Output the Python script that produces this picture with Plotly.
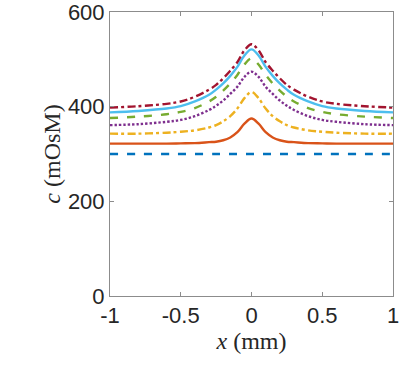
import plotly.graph_objects as go

# ── data ──────────────────────────────────────────────────────────────────────
x_mm = [-1.0, -0.8, -0.6, -0.5, -0.4, -0.3, -0.25, -0.2, -0.15, -0.1, -0.05, 0.0,
        0.05, 0.1, 0.15, 0.2, 0.25, 0.3, 0.4, 0.5, 0.6, 0.8, 1.0]

c_blue = [300] * 23
c_orange = [322, 322, 322, 322.5, 323, 325, 326, 329, 335, 346, 364, 375,
            364, 346, 335, 329, 326, 325, 323, 322.5, 322, 322, 322]
c_yellow = [343, 343, 345, 347, 350, 356, 361, 369, 380, 396, 418, 431,
            418, 396, 380, 369, 361, 356, 350, 347, 345, 343, 343]
c_purple = [361, 363, 368, 372, 380, 393, 402, 413, 427, 442, 463, 474,
            463, 442, 427, 413, 402, 393, 380, 372, 368, 363, 361]
c_green = [376, 379, 384, 389, 397, 411, 421, 434, 449, 467, 489, 502,
           489, 467, 449, 434, 421, 411, 397, 389, 384, 379, 376]
c_lblue = [388, 391, 396, 401, 411, 425, 436, 449, 465, 484, 508, 521,
           508, 484, 465, 449, 436, 425, 411, 401, 396, 391, 388]
c_red = [398, 401, 406, 411, 421, 436, 446, 460, 476, 494, 519, 532,
         519, 494, 476, 460, 446, 436, 421, 411, 406, 401, 398]

# MATLAB-like dash patterns
DASH = "8px,9px"
DASHDOT = "8px,3px,3px,3.5px"
DOT = "2.4px,2px"

series = [
    (c_blue, "#0072BD", DASH),
    (c_orange, "#D95319", "solid"),
    (c_yellow, "#EDB120", DASHDOT),
    (c_purple, "#7E2F8E", DOT),
    (c_green, "#77AC30", DASH),
    (c_lblue, "#4DBEEE", "solid"),
    (c_red, "#A2142F", DASHDOT),
]

fig = go.Figure()
for ys, col, dash in series:
    fig.add_trace(go.Scatter(
        x=x_mm, y=ys, mode="lines", line_shape="spline",
        line=dict(color=col, width=2.4, dash=dash), showlegend=False,
    ))

_TICKFONT = dict(family="Liberation Sans, Arial, sans-serif", size=22, color="#262626")
_TITLEFONT = dict(family="Liberation Serif, serif", size=24, color="#262626")
_AX = dict(
    showline=True, mirror="ticks", linecolor="#8c8c8c", linewidth=1,
    ticks="inside", ticklen=4, tickcolor="#8c8c8c",
    showgrid=False, zeroline=False, automargin=False,
    ticklabeloverflow="allow", tickfont=_TICKFONT,
)

fig.update_layout(
    width=407, height=370,
    margin=dict(l=110, r=14, t=12, b=74),
    paper_bgcolor="white", plot_bgcolor="white",
    xaxis=dict(range=[-1, 1], tickvals=[-1, -0.5, 0, 0.5, 1],
               ticktext=["-1", "-0.5", "0", "0.5", "1"],
               title=dict(text="<i>x</i> (mm)", standoff=2, font=_TITLEFONT),
               **_AX),
    yaxis=dict(range=[0, 600], tickvals=[0, 200, 400, 600],
               title=dict(text="<i>c</i> (mOsM)", standoff=0, font=_TITLEFONT),
               **_AX),
)

# page body margin would shift the 407x370 figure out of the window
fig.write_html("out.html", config={"displayModeBar": False},
               post_script="document.body.style.margin='0';")
